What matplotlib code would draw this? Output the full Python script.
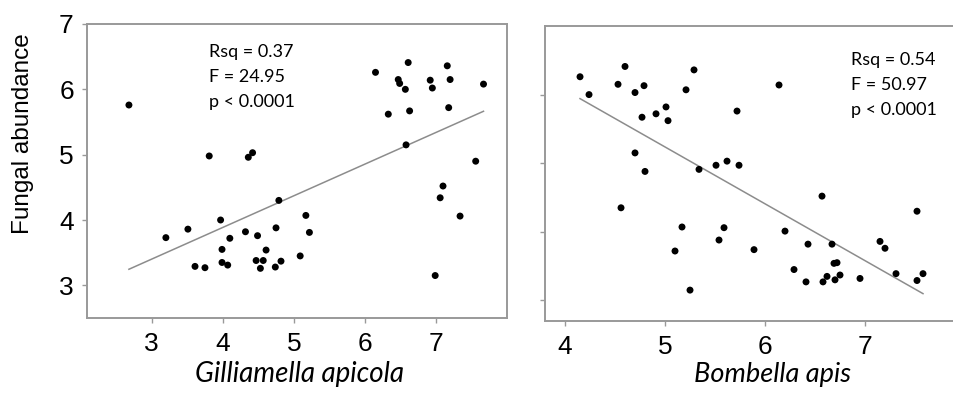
import matplotlib
matplotlib.use('Agg')
import matplotlib.pyplot as plt
import numpy as np

# Gilliamella apicola vs fungal abundance
gill_x = [2.68, 3.81, 4.36, 4.42, 6.15, 6.61, 7.16, 6.47, 6.49, 6.57, 6.92, 6.95,
          7.20, 7.67, 6.33, 6.63, 7.18, 6.58, 7.56, 7.10, 3.20, 3.51, 3.97, 4.79,
          3.61, 3.75, 3.99, 3.99, 4.07, 4.10, 4.32, 4.49, 4.61, 4.47, 4.57, 4.53,
          4.75, 4.74, 4.82, 5.09, 5.17, 5.22, 7.06, 7.34, 6.99]
gill_y = [5.76, 4.98, 4.96, 5.03, 6.26, 6.41, 6.36, 6.15, 6.09, 6.00, 6.14, 6.02,
          6.15, 6.08, 5.62, 5.67, 5.72, 5.15, 4.90, 4.52, 3.73, 3.86, 4.00, 4.30,
          3.29, 3.27, 3.55, 3.35, 3.31, 3.72, 3.82, 3.76, 3.54, 3.38, 3.38, 3.26,
          3.88, 3.28, 3.37, 3.45, 4.07, 3.81, 4.34, 4.06, 3.15]

# Bombella apis vs fungal abundance
bomb_x = [4.15, 4.24, 4.60, 4.53, 4.70, 4.79, 5.21, 5.29, 4.77, 4.91, 5.01, 5.03,
          4.70, 4.80, 5.34, 5.51, 5.62, 6.14, 5.72, 5.74, 4.56, 5.17, 5.59, 5.54,
          5.10, 5.25, 6.57, 7.52, 6.20, 5.89, 6.43, 6.67, 7.15, 7.20, 6.29, 6.69,
          6.72, 6.41, 6.58, 6.62, 6.70, 6.75, 6.95, 7.31, 7.52, 7.58]
bomb_y = [6.26, 6.00, 6.41, 6.15, 6.03, 6.13, 6.07, 6.36, 5.67, 5.72, 5.82, 5.62,
          5.15, 4.88, 4.91, 4.97, 5.03, 6.14, 5.76, 4.97, 4.35, 4.07, 4.06, 3.88,
          3.72, 3.15, 4.52, 4.30, 4.01, 3.74, 3.82, 3.82, 3.86, 3.76, 3.45, 3.54,
          3.55, 3.27, 3.27, 3.35, 3.30, 3.37, 3.32, 3.39, 3.29, 3.39]

gill_stats = ['Rsq = 0.37', 'F = 24.95', 'p < 0.0001']
bomb_stats = ['Rsq = 0.54', 'F = 50.97', 'p < 0.0001']

x_ticks_gill = [3, 4, 5, 6, 7]
x_ticks_bomb = [4, 5, 6, 7]
y_ticks = [3, 4, 5, 6, 7]

SPINE = '#999999'
LINE = '#8c8c8c'
TICK_FONT = 'Liberation Sans'
NOTE_FONT = 'Lato'

fig = plt.figure(figsize=(9.54, 3.98), dpi=100)
ax1 = fig.add_axes([0.0912, 0.201, 0.4402, 0.7387])
ax2 = fig.add_axes([0.5713, 0.1935, 0.4287, 0.7412])


def draw_panel(ax, x, y, stats, text_pos):
    ax.scatter(x, y, s=25, c='black', edgecolors='none', zorder=3)
    # least squares line over the range of the data
    slope, intercept = np.polyfit(x, y, 1)
    xs = np.array([min(x), max(x)])
    ax.plot(xs, slope * xs + intercept, color=LINE, lw=1.1, zorder=2)
    for i, line in enumerate(stats):
        ax.text(text_pos[0], text_pos[1] - i * 0.085, line, transform=ax.transAxes,
                fontsize=13, family=NOTE_FONT, va='baseline', ha='left')
    for side in ['left', 'right', 'top', 'bottom']:
        ax.spines[side].set_color(SPINE)
        ax.spines[side].set_linewidth(1.4)
    ax.tick_params(direction='out', length=3.5, width=1, color=SPINE,
                   labelsize=19, pad=6)
    for lab in ax.get_xticklabels() + ax.get_yticklabels():
        lab.set_family(TICK_FONT)


ax1.set_xlim(2.09, 8.0)
ax1.set_ylim(2.5, 7.0)
ax1.set_xticks(x_ticks_gill)
ax1.set_yticks(y_ticks)
draw_panel(ax1, gill_x, gill_y, gill_stats, (0.29, 0.888))
ax1.tick_params(axis='x', pad=6.5)
ax1.set_ylabel('Fungal abundance', fontsize=17.5, family=TICK_FONT)
ax1.yaxis.set_label_coords(-0.152, 0.626)
ax1.yaxis.label.set_va('center')
ax1.set_xlabel('Gilliamella apicola', fontsize=20, family=NOTE_FONT, style='italic')
ax1.xaxis.set_label_coords(0.505, -0.217)
ax1.xaxis.label.set_va('baseline')

ax2.set_xlim(3.8, 7.89)
ax2.set_ylim(2.7, 7.0)
ax2.set_xticks(x_ticks_bomb)
ax2.set_yticks(y_ticks[:-1])
draw_panel(ax2, bomb_x, bomb_y, bomb_stats, (0.748, 0.868))
ax2.tick_params(axis='y', labelleft=False)
ax2.tick_params(axis='x', pad=6.5)
ax2.spines['right'].set_visible(False)
ax2.set_xlabel('Bombella apis', fontsize=19.5, family=NOTE_FONT, style='italic')
ax2.xaxis.set_label_coords(0.557, -0.206)
ax2.xaxis.label.set_va('baseline')

fig.savefig('out.png', dpi=100)
